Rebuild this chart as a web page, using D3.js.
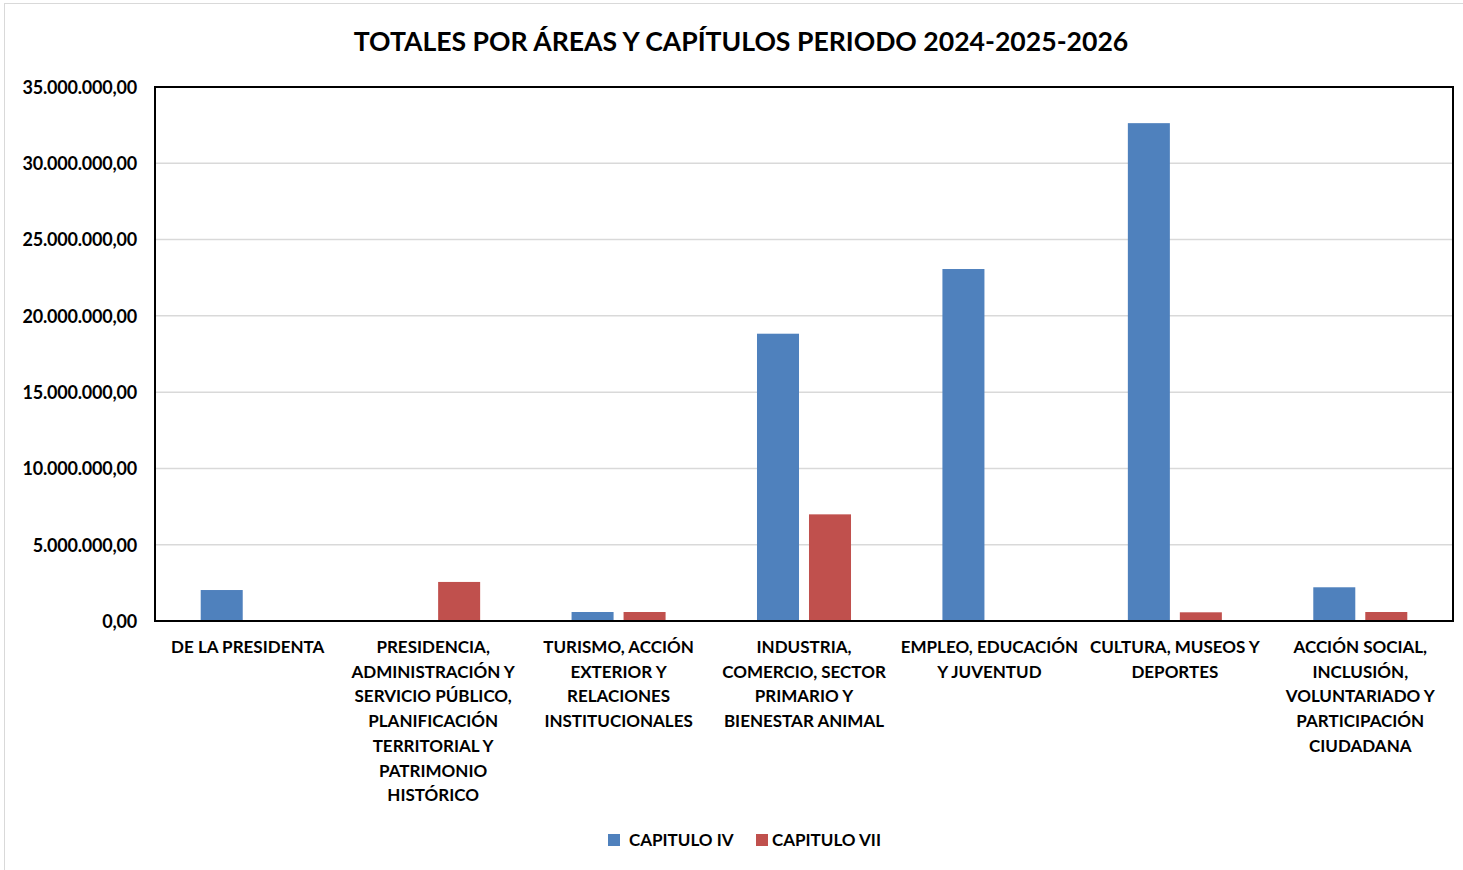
<!DOCTYPE html>
<html>
<head>
<meta charset="utf-8">
<script src="https://cdn.jsdelivr.net/npm/d3@7"></script>
<style>
  body { margin: 0; background: #fff; }
  text { font-family: Lato, "Open Sans", sans-serif; font-weight: bold; fill: #000; }
</style>
</head>
<body>
<div id="chart"></div>
<script>
const w = 1463;
const h = 870;

//Plot area
const xLeft = 155;
const xRight = 1453;
const yTop = 87;
const yBottom = 621;

//Data
const categories = [
  ["DE LA PRESIDENTA"],
  ["PRESIDENCIA,", "ADMINISTRACIÓN Y", "SERVICIO PÚBLICO,", "PLANIFICACIÓN", "TERRITORIAL Y", "PATRIMONIO", "HISTÓRICO"],
  ["TURISMO, ACCIÓN", "EXTERIOR Y", "RELACIONES", "INSTITUCIONALES"],
  ["INDUSTRIA,", "COMERCIO, SECTOR", "PRIMARIO Y", "BIENESTAR ANIMAL"],
  ["EMPLEO, EDUCACIÓN", "Y JUVENTUD"],
  ["CULTURA, MUSEOS Y", "DEPORTES"],
  ["ACCIÓN SOCIAL,", "INCLUSIÓN,", "VOLUNTARIADO Y", "PARTICIPACIÓN", "CIUDADANA"]
];
const seriesNames = ["CAPITULO IV", "CAPITULO VII"];
const capituloIV = [2030000, 0, 590000, 18830000, 23070000, 32630000, 2210000];
const capituloVII = [0, 2560000, 590000, 6990000, 0, 570000, 590000];
const yTicks = [0, 5000000, 10000000, 15000000, 20000000, 25000000, 30000000, 35000000];
const colors = ["#4F81BD", "#C0504D"];

const catIds = categories.map((c, i) => i);
const rows = catIds.map(i => [capituloIV[i], capituloVII[i]]);

const svg = d3.select("#chart")
.append("svg")
.attr("width", w)
.attr("height", h);

//Outer frame
svg.append("rect")
.attr("x", 4.5).attr("y", 3.5)
.attr("width", w + 10).attr("height", h + 10)
.attr("fill", "none")
.attr("stroke", "#d9d9d9");

//Title
svg.append("text")
.attr("x", 741)
.attr("y", 51)
.attr("text-anchor", "middle")
.style("font-size", "26.6px")
.text("TOTALES POR ÁREAS Y CAPÍTULOS PERIODO 2024-2025-2026");

//Scales
const x0 = d3.scaleBand().domain(catIds).range([xLeft, xRight]);
const y = d3.scaleLinear().domain([0, 35000000]).range([yBottom, yTop]);
const groupW = x0.bandwidth() * 0.507;
const x1 = d3.scaleBand().domain([0, 1]).range([0, groupW]).paddingInner(0.192);

const fmt = d3.formatLocale({decimal: ",", thousands: ".", grouping: [3], currency: ["", ""]}).format(",.2f");

//Gridlines
svg.append("g")
.selectAll("line")
.data(yTicks.slice(1))
.enter()
.append("line")
.attr("x1", xLeft).attr("x2", xRight)
.attr("y1", d => y(d)).attr("y2", d => y(d))
.attr("stroke", "#d9d9d9")
.attr("stroke-width", 1.5);

//Y axis labels
const yAxis = svg.append("g")
.attr("transform", `translate(${xLeft},0)`)
.call(d3.axisLeft(y).tickValues(yTicks).tickFormat(fmt).tickSize(0).tickPadding(18));
yAxis.select(".domain").remove();
yAxis.selectAll("text").style("font-size", "18px").style("letter-spacing", "-0.2px").attr("dy", "0.35em");

//Bars
const groups = svg.append("g")
.selectAll("g")
.data(rows)
.enter()
.append("g")
.attr("transform", (d, i) => `translate(${x0(i) + (x0.bandwidth() - groupW) / 2},0)`);

groups.selectAll("rect")
.data(d => d.map((v, k) => ({k: k, v: v})).filter(e => e.v > 0))
.enter()
.append("rect")
.attr("x", d => x1(d.k))
.attr("width", x1.bandwidth())
.attr("y", d => y(d.v))
.attr("height", d => yBottom - y(d.v))
.attr("fill", d => colors[d.k]);

//Plot border
svg.append("rect")
.attr("x", xLeft).attr("y", yTop)
.attr("width", xRight - xLeft).attr("height", yBottom - yTop)
.attr("fill", "none")
.attr("stroke", "#000")
.attr("stroke-width", 2);

//X labels
svg.append("g")
.selectAll("text")
.data(categories)
.enter()
.append("text")
.attr("text-anchor", "middle")
.each(function (lines, i) {
  const cx = x0(i) + x0.bandwidth() / 2;
  d3.select(this).selectAll("tspan")
  .data(lines)
  .enter()
  .append("tspan")
  .attr("x", cx)
  .attr("y", (d, j) => 653 + j * 24.7)
  .style("font-size", "17px")
  .text(d => d);
});

//Legend
const legendX = [608, 756];
const legend = svg.append("g")
.selectAll("g")
.data(seriesNames)
.enter()
.append("g")
.attr("transform", (d, i) => `translate(${legendX[i]},834)`);

legend.append("rect")
.attr("width", 12).attr("height", 12)
.attr("fill", (d, i) => colors[i]);

legend.append("text")
.attr("x", (d, i) => i == 0 ? 21 : 16)
.attr("y", 12)
.style("font-size", "17px")
.text(d => d);
</script>
</body>
</html>
